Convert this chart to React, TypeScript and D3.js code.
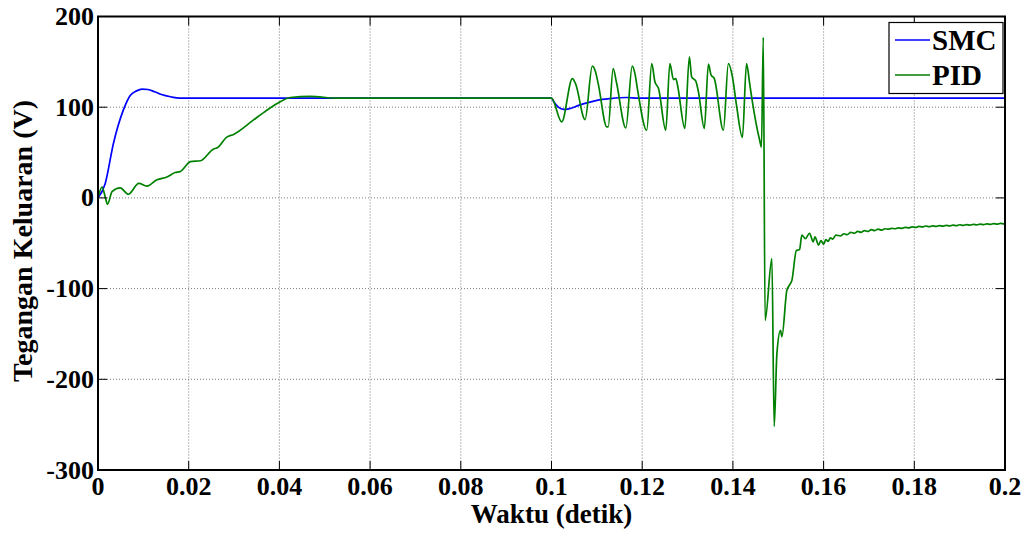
import React from "react";
import * as d3 from "d3";

const xTicks = [0, 0.02, 0.04, 0.06, 0.08, 0.1, 0.12, 0.14, 0.16, 0.18, 0.2];
const xTickLabels = ["0", "0.02", "0.04", "0.06", "0.08", "0.1", "0.12", "0.14", "0.16", "0.18", "0.2"];
const yTicks = [200, 100, 0, -100, -200, -300];
const yTickLabels = ["200", "100", "0", "-100", "-200", "-300"];
const seriesNames = ["SMC", "PID"];
const seriesColors = ["#0000ff", "#008000"];

const smcTime = [0, 0.0016, 0.0034, 0.0056, 0.0071, 0.0085, 0.0097, 0.011, 0.0125, 0.014, 0.016, 0.018, 0.1, 0.1005, 0.1015, 0.1027, 0.104, 0.106, 0.108, 0.11, 0.113, 0.1166, 0.119, 0.2];
const smcVolt = [0, 16, 60, 97, 113, 118, 120, 119.5, 117, 114, 111.5, 110, 110, 106, 100, 97.5, 98.5, 102, 105, 107.5, 109.5, 110.7, 110, 110];

const pidTime = [
  0, 0.0009, 0.0016, 0.0021, 0.0031, 0.0049, 0.0067, 0.009, 0.0108, 0.013, 0.0152, 0.017, 0.0181, 0.0204, 0.0226, 0.0255, 0.0262, 0.0284, 0.0299, 0.0343, 0.0365, 0.0395, 0.0424, 0.0468, 0.0527, 0.1,
  0.10225, 0.1046, 0.1053, 0.1074, 0.109, 0.1097, 0.1103, 0.1122, 0.1125, 0.1136, 0.1143, 0.1164, 0.1178, 0.1184, 0.119, 0.121, 0.1221, 0.1228, 0.1236, 0.1252, 0.1261, 0.1269, 0.1274, 0.1278, 0.1294, 0.1304, 0.1309, 0.1318, 0.1324, 0.1337, 0.1346, 0.1352, 0.1359, 0.1379, 0.139, 0.1399, 0.1408, 0.1421, 0.143, 0.1437, 0.1443, 0.1459, 0.1463, 0.1467,
  0.1471, 0.1486, 0.1491, 0.1497, 0.1505, 0.1508, 0.1519, 0.1525, 0.153, 0.154, 0.1547, 0.1552, 0.156, 0.1569, 0.1577, 0.1581, 0.1589, 0.1594, 0.16, 0.1605, 0.161, 0.1615, 0.162, 0.1627, 0.1637, 0.1645, 0.1652, 0.166, 0.1668, 0.1675, 0.1683, 0.169, 0.1698, 0.1705, 0.1713, 0.172, 0.1728, 0.1735, 0.1743, 0.175, 0.1758, 0.1765, 0.1773, 0.178, 0.1788, 0.1795, 0.1803, 0.181, 0.1818, 0.1825, 0.1833, 0.184, 0.1848, 0.1855, 0.1863, 0.187, 0.1878, 0.1885, 0.1893, 0.19, 0.1908, 0.1915, 0.1923, 0.193, 0.1938, 0.1945, 0.1953, 0.196, 0.1968, 0.1975, 0.1983, 0.199, 0.1998, 0.2
];
const pidVolt = [
  0, 12, 1, -7, 7, 11, 4, 16, 13, 20, 23, 28, 29, 40, 41, 54, 55, 67, 70, 86, 94, 104, 110.7, 112, 110, 110,
  83.8, 131.6, 126, 86.4, 145.2, 139, 126, 78.3, 78.3, 142.6, 128, 77.2, 145.2, 137, 118.5, 74.6, 148, 128, 120.6, 74.6, 148, 130.5, 131.6, 124, 76.5, 155.5, 133.4, 129, 116.9, 76.5, 147.4, 135.3, 131.6, 74.6, 148, 133.4, 102, 66.6, 148, 126, 105.8, 63.6, 56, 177,
  -135, -67, -252, -172, -146, -153, -102, -96, -91, -58, -57, -41, -45, -39, -48.5, -43, -52, -47, -51, -46, -48, -44, -45.5, -41, -42, -39.5, -40.5, -38, -39, -37, -38, -36, -37, -35, -36, -34.5, -35.5, -34, -34.5, -33.5, -34, -33, -33.5, -32.5, -33, -32, -32.5, -31.5, -32, -31, -31.8, -30.8, -31.5, -30.5, -31.2, -30.2, -31, -30, -30.6, -29.6, -30.3, -29.4, -30, -29.2, -29.8, -28.9, -29.5, -28.6, -29.2, -28.3, -29, -28, -28.6, -27.8
];

const W = 1025;
const H = 534;
const L = 98, R = 1005, T = 16.5, B = 470;
const FONT = "Liberation Serif, Times New Roman, serif";

export default function App() {
  const x = d3.scaleLinear().domain([0, 0.2]).range([L, R]);
  const y = d3.scaleLinear().domain([-300, 200]).range([B, T]);
  const line = d3.line<[number, number]>().x((d) => x(d[0])).y((d) => y(d[1])).curve(d3.curveMonotoneX);
  const n = Math.min(pidTime.length, pidVolt.length);
  const smcPts = smcTime.map((t, i) => [t, smcVolt[i]] as [number, number]);
  const pidPts = pidTime.slice(0, n).map((t, i) => [t, pidVolt[i]] as [number, number]);
  const tickLen = 9;
  const txt = { fontFamily: FONT, fontWeight: 700 } as React.CSSProperties;

  return (
    <svg width={W} height={H} style={{ position: "absolute", left: 0, top: 0, background: "#fff" }}>
      <defs>
        <clipPath id="plotclip">
          <rect x={L} y={T} width={R - L} height={B - T} />
        </clipPath>
      </defs>
      <rect x={0} y={0} width={W} height={H} fill="#fff" />
      {xTicks.slice(1, -1).map((t) => (
        <line key={"gx" + t} x1={x(t)} x2={x(t)} y1={T} y2={B} stroke="#555" strokeWidth={0.8} strokeDasharray="1,2" />
      ))}
      {yTicks.slice(1, -1).map((v) => (
        <line key={"gy" + v} x1={L} x2={R} y1={y(v)} y2={y(v)} stroke="#555" strokeWidth={0.8} strokeDasharray="1,2" />
      ))}
      <g clipPath="url(#plotclip)">
        <path d={line(smcPts) || ""} fill="none" stroke={seriesColors[0]} strokeWidth={1.7} />
        <path d={line(pidPts) || ""} fill="none" stroke={seriesColors[1]} strokeWidth={1.7} strokeLinejoin="round" />
      </g>
      {xTicks.map((t) => (
        <g key={"tx" + t}>
          <line x1={x(t)} x2={x(t)} y1={B} y2={B - tickLen} stroke="#000" strokeWidth={1} />
          <line x1={x(t)} x2={x(t)} y1={T} y2={T + tickLen} stroke="#000" strokeWidth={1} />
        </g>
      ))}
      {yTicks.map((v) => (
        <g key={"ty" + v}>
          <line x1={L} x2={L + tickLen} y1={y(v)} y2={y(v)} stroke="#000" strokeWidth={1} />
          <line x1={R} x2={R - tickLen} y1={y(v)} y2={y(v)} stroke="#000" strokeWidth={1} />
        </g>
      ))}
      <rect x={L} y={T} width={R - L} height={B - T} fill="none" stroke="#000" strokeWidth={2} />
      {xTicks.map((t, i) => (
        <text key={"lx" + t} x={x(t)} y={495} textAnchor="middle" style={{ ...txt, fontSize: 26 }}>
          {xTickLabels[i]}
        </text>
      ))}
      {yTicks.map((v, i) => (
        <text key={"ly" + v} x={L - 4} y={y(v)} dy="0.33em" textAnchor="end" style={{ ...txt, fontSize: 26 }}>
          {yTickLabels[i]}
        </text>
      ))}
      <text x={(L + R) / 2} y={523} textAnchor="middle" style={{ ...txt, fontSize: 27 }}>
        Waktu (detik)
      </text>
      <text transform="translate(32, 241) rotate(-90)" textAnchor="middle" style={{ ...txt, fontSize: 28 }}>
        Tegangan Keluaran (V)
      </text>
      <rect x={889} y={22.5} width={114} height={71} fill="#fff" stroke="#000" strokeWidth={1.2} />
      {seriesNames.map((s, i) => (
        <g key={s}>
          <line x1={895} x2={930} y1={40 + i * 35} y2={40 + i * 35} stroke={seriesColors[i]} strokeWidth={1.6} />
          <text x={932} y={40 + i * 35} dy="0.35em" style={{ ...txt, fontSize: 29 }}>
            {s}
          </text>
        </g>
      ))}
    </svg>
  );
}
